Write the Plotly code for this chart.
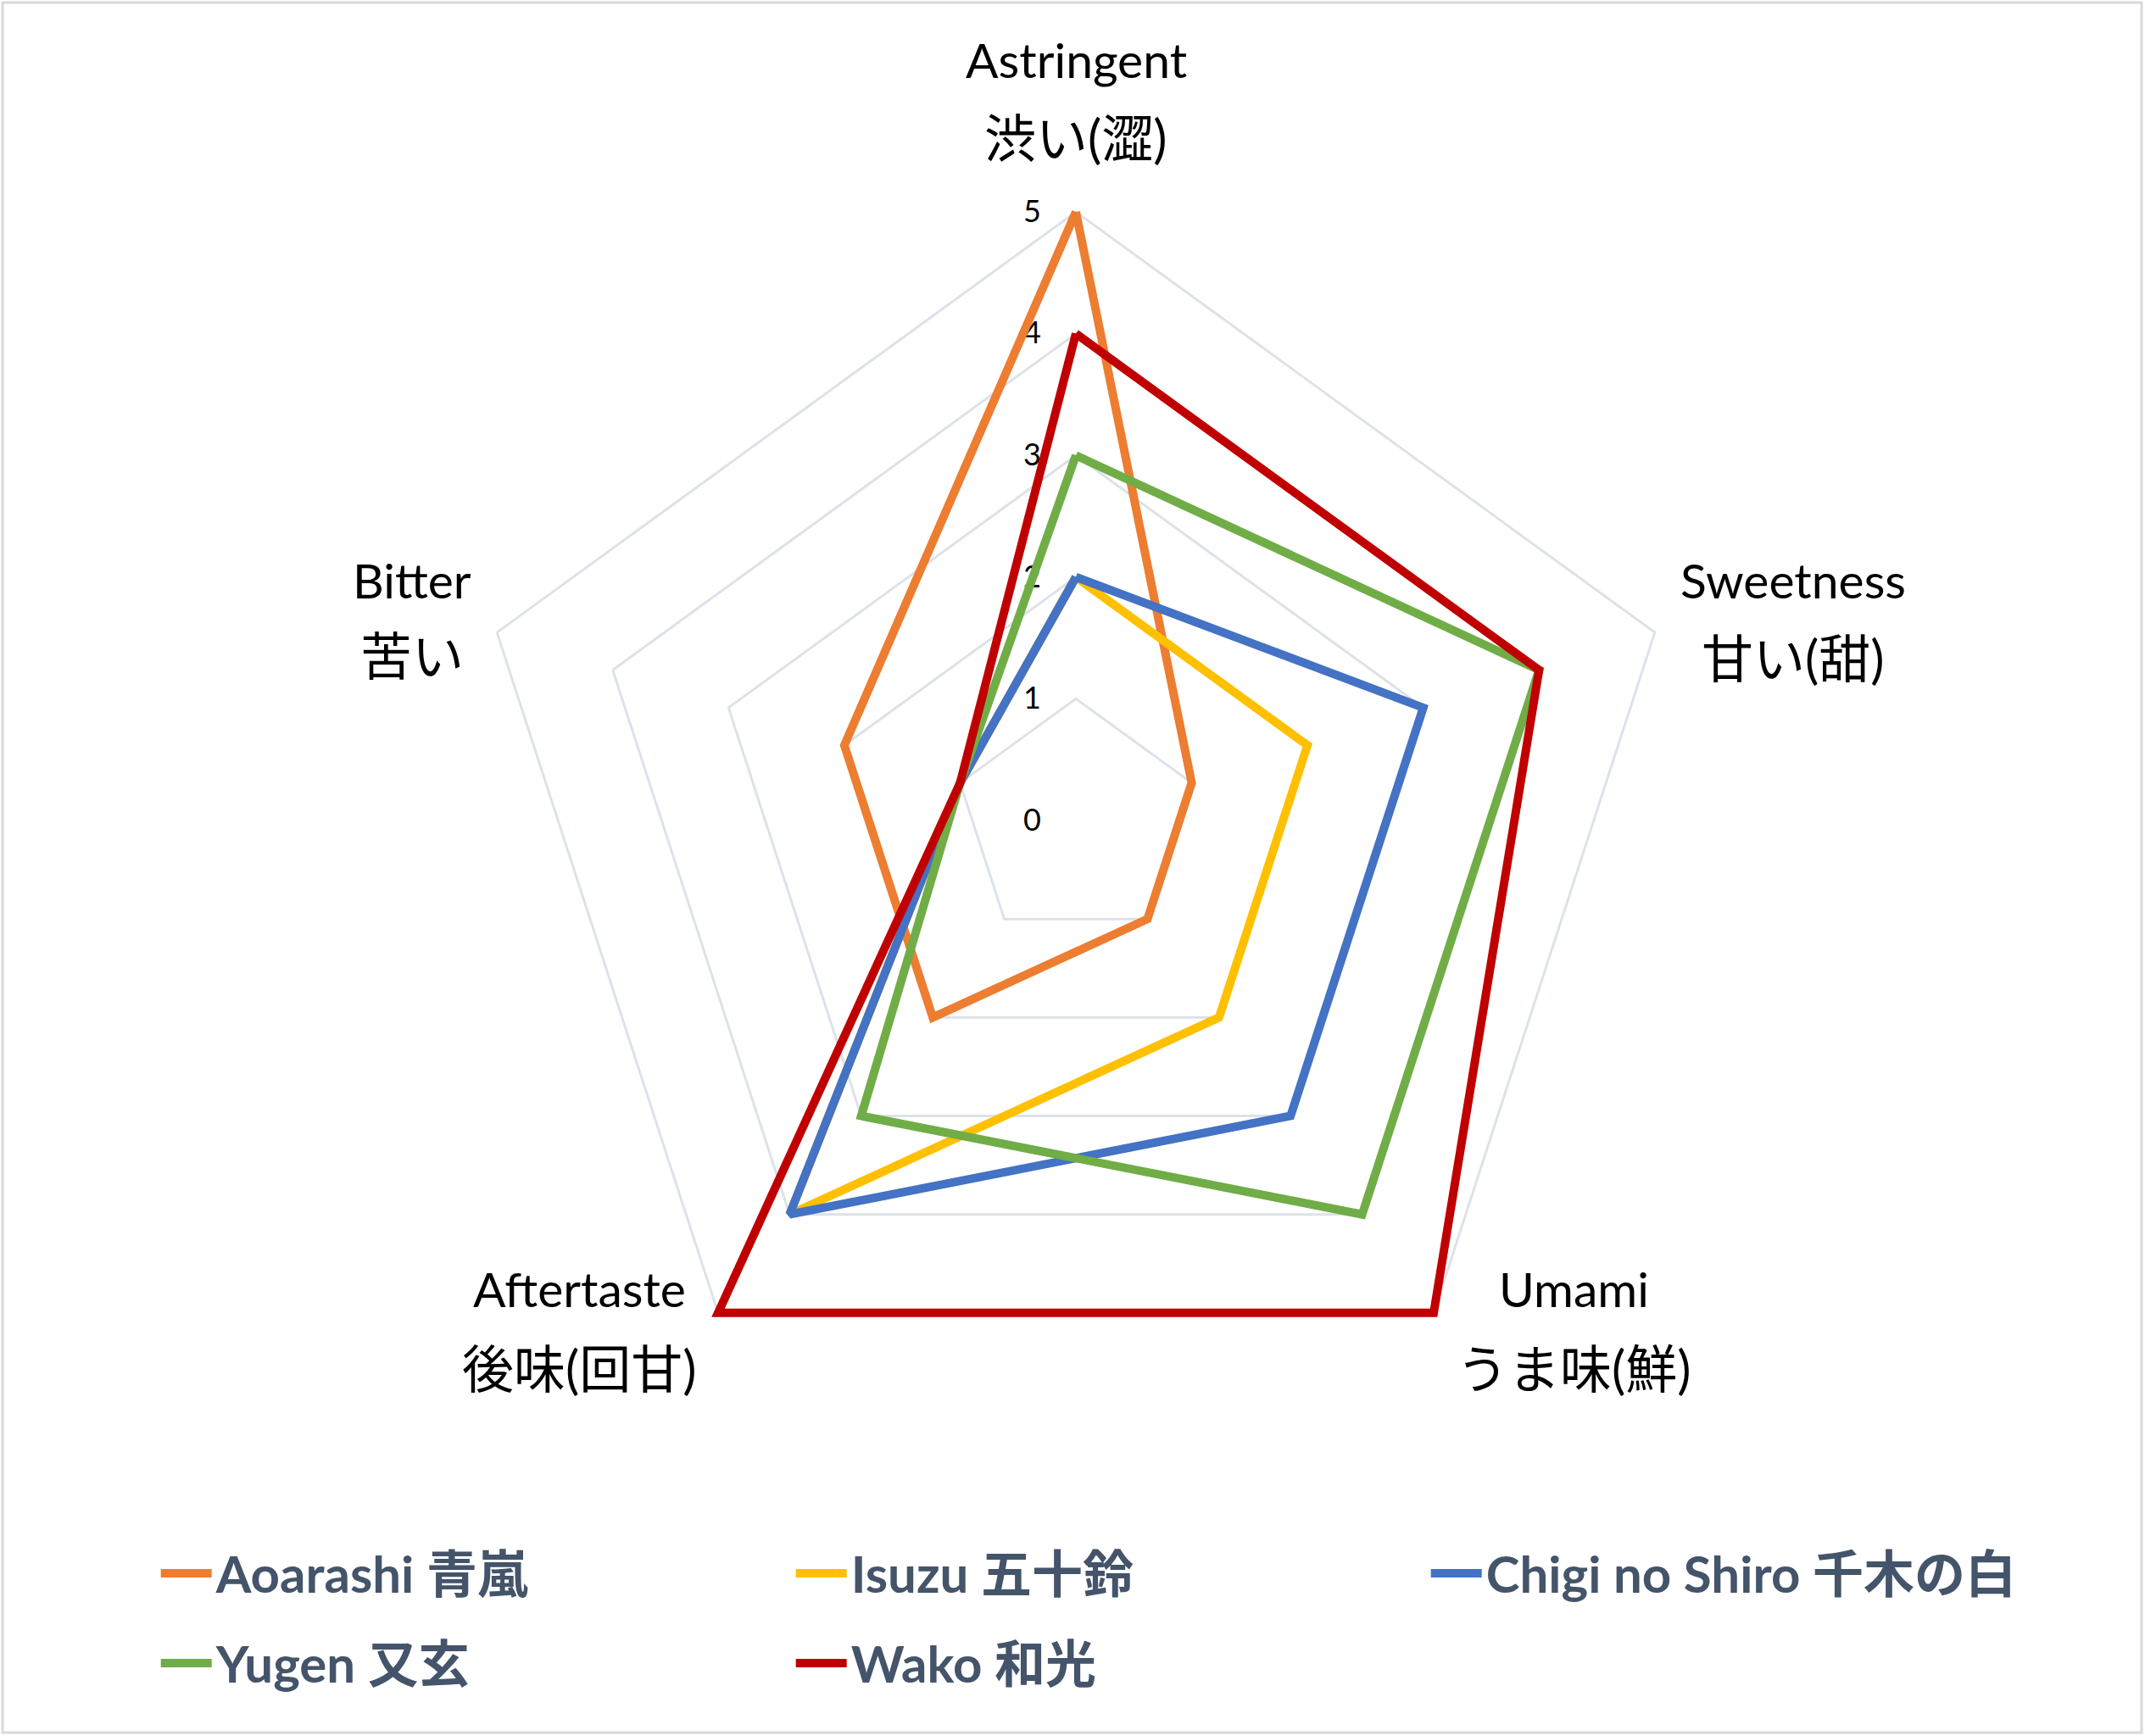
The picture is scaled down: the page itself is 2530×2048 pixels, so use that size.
import plotly.graph_objects as go

# axes, clockwise from the top
categories = ["Astringent", "Sweetness", "Umami", "Aftertaste", "Bitter"]
categories_jp = ["渋い(澀)", "甘い(甜)", "うま味(鮮)", "後味(回甘)", "苦い"]

tea_names = ["Aoarashi 青嵐", "Isuzu 五十鈴", "Chigi no Shiro 千木の白", "Yugen 又玄", "Wako 和光"]
aoarashi = [5, 1, 1, 2, 2]
isuzu = [2, 2, 2, 4, 1]
chigi = [2, 3, 3, 4, 1]
yugen = [3, 4, 4, 3, 1]
wako = [4, 4, 5, 5, 1]

radial_ticks = [0, 1, 2, 3, 4, 5]

colors = ["#ED7D31", "#FFC000", "#4472C4", "#70AD47", "#C00000"]
W, H = 2530, 2048
font_fam = "Lato, 'Noto Sans CJK JP', sans-serif"
grid_col = "#DDE2E9"

fig = go.Figure()
series = [aoarashi, isuzu, chigi, yugen, wako]
for i, (name, vals, col) in enumerate(zip(tea_names, series, colors)):
    # close the polygon by repeating the first point
    fig.add_trace(go.Scatterpolar(r=vals + vals[:1], theta=categories + categories[:1],
                                  mode="lines", name=name, cliponaxis=False,
                                  legend="legend" if i < 3 else "legend2",
                                  line=dict(color=col, width=10)))

# category labels (english line + japanese line), pixel centres
label_pos = [(1269, 70, 162), (2115, 684, 776), (1856, 1520, 1614),
             (683, 1520, 1614), (486, 684, 773)]
annotations = []
for en, jp, (px, py_en, py_jp) in zip(categories, categories_jp, label_pos):
    for txt, py, sz in [(en, py_en, 57), (jp, py_jp, 61)]:
        annotations.append(dict(text=txt, x=px / W, y=1 - py / H, xref="paper", yref="paper",
                                xanchor="center", yanchor="middle", showarrow=False,
                                font=dict(family=font_fam, size=sz, color="black")))

leg_style = dict(orientation="h", x=0.073, xanchor="left", yanchor="middle",
                 entrywidth=674, entrywidthmode="pixels", itemwidth=60,
                 bgcolor="rgba(0,0,0,0)",
                 font=dict(family=font_fam, size=60, color="#44546A", weight="bold"))

# radial range a bit past 5 so the outer lines are not clipped by the frame
r_max = 5.1
cx, cy = 1269, 968
rad = 718 * r_max / 5
fig.update_layout(
    width=W, height=H,
    margin=dict(l=0, r=0, t=0, b=0),
    paper_bgcolor="white",
    font=dict(family=font_fam, color="black"),
    polar=dict(
        domain=dict(x=[(cx - rad) / W, (cx + rad) / W], y=[1 - (cy + rad) / H, 1 - (cy - rad) / H]),
        bgcolor="white",
        gridshape="linear",
        radialaxis=dict(range=[0, r_max], tickvals=radial_ticks, angle=90, side="counterclockwise",
                        tickangle=90, showline=False, ticks="outside", ticklen=28,
                        tickcolor="rgba(0,0,0,0)", gridcolor=grid_col, gridwidth=2.5,
                        layer="below traces",
                        tickfont=dict(size=36, color="black", family=font_fam)),
        angularaxis=dict(rotation=90, direction="clockwise", showticklabels=False,
                         showgrid=False, showline=False, ticks="", layer="below traces"),
    ),
    legend=dict(y=1 - 1856 / H, **leg_style),
    legend2=dict(y=1 - 1962 / H, **leg_style),
    annotations=annotations,
    shapes=[dict(type="rect", xref="paper", yref="paper", x0=3 / W, x1=1 - 4 / W,
                 y0=4 / H, y1=1 - 3 / H, line=dict(color="#D9D9D9", width=3))],
)

fig.write_html("out.html", config={"displayModeBar": False},
               post_script="document.body.style.margin='0';")
